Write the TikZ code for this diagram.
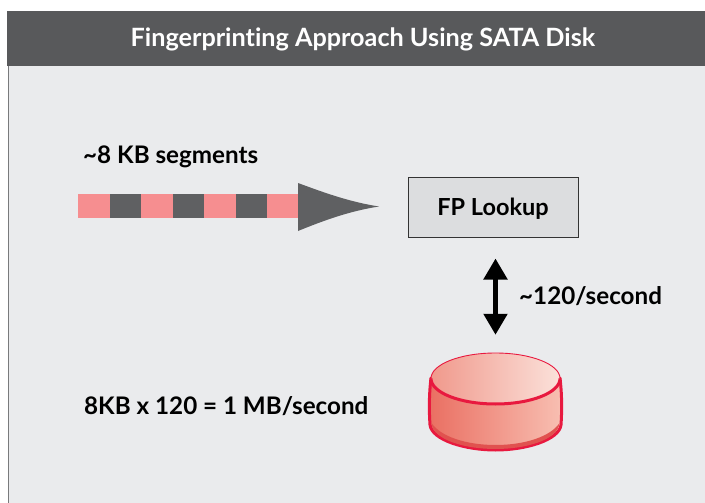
\documentclass[tikz,border=0pt]{standalone}
\usepackage{fontspec}
\setmainfont{Lato}[Ligatures={TeX,NoCommon}]
\usetikzlibrary{arrows.meta}
\definecolor{panel}{HTML}{EAEBED}
\definecolor{hdr}{HTML}{58595B}
\definecolor{pinkseg}{HTML}{F68E90}
\definecolor{greyseg}{HTML}{5F6062}
\definecolor{boxfill}{HTML}{DCDDDF}
\definecolor{diskline}{HTML}{E8193F}
\definecolor{bodyL}{HTML}{EA6F62}
\definecolor{bodyM}{HTML}{F29A8C}
\definecolor{bodyR}{HTML}{F8BFB2}
\definecolor{topL}{HTML}{F0998C}
\definecolor{topM}{HTML}{F6B9AC}
\definecolor{topR}{HTML}{FBE1DA}
\definecolor{band}{HTML}{E0524F}
\tikzset{
  label text/.style={inner sep=0pt,anchor=base west,font=\bfseries\fontsize{24.2}{28}\selectfont,text=black},
  seg/.style={minimum height=24pt,minimum width=31.5pt,inner sep=0pt,anchor=west,outer sep=0pt},
  pinkbox/.style={seg,fill=pinkseg},
  greybox/.style={seg,fill=greyseg},
  disk outline/.style={draw=diskline,line width=3pt,line join=round},
}
\begin{document}
\begin{tikzpicture}[x=1pt,y=-1pt]
\useasboundingbox (0,0) rectangle (705,503);
\fill[white] (0,0) rectangle (705,503);
% panel
\fill[panel] (8,66) rectangle (705,503);
\draw[color=hdr!80,line width=1.4pt] (8.5,66) -- (8.5,503);
\fill[hdr] (7,11) rectangle (705,66);
\node[inner sep=0pt,anchor=base,text=white,font=\bfseries\fontsize{25.2}{30}\selectfont] (title) at (363,47) {Fingerprinting Approach Using SATA Disk};
% labels
\node[label text] (seglabel) at (83,164) {\textasciitilde8 KB segments};
% stream
\node[pinkbox] (s1) at (78,206) {};
\node[greybox] (s2) at (s1.east) {};
\node[pinkbox] (s3) at (s2.east) {};
\node[greybox] (s4) at (s3.east) {};
\node[pinkbox] (s5) at (s4.east) {};
\node[greybox] (s6) at (s5.east) {};
\node[pinkbox] (s7) at (s6.east) {};
\fill[greyseg] (298,183) .. controls (325,193) and (350,202) .. (379,206.5)
  .. controls (350,211) and (325,220) .. (298,231) -- cycle;
% lookup
\node[draw=black!80,line width=1pt,fill=boxfill,minimum width=170pt,minimum height=60pt,inner sep=0pt,
  font=\bfseries\fontsize{23.5}{27}\selectfont,text=black] (fp) at (493,207) {\smash{\raisebox{-8pt}{FP Lookup}}};
% disk
\node[minimum width=134pt,minimum height=98pt,inner sep=0pt] (disk) at (495.5,402) {};
\path[left color=bodyL,middle color=bodyM,right color=bodyR,disk outline]
  (431,378) .. controls (429,395) and (429,410) .. (430,425)
  .. controls (432,440) and (465,450) .. (495.5,450)
  .. controls (526,450) and (559,440) .. (561,425)
  .. controls (562,410) and (562,395) .. (560,378) -- cycle;
\fill[band] (431.5,423) .. controls (440,436) and (465,445) .. (495.5,445)
  .. controls (526,445) and (551,436) .. (559.5,423)
  .. controls (558,440) and (526,449) .. (495.5,449)
  .. controls (465,449) and (433,440) .. (431.5,423) -- cycle;
\path[left color=topL,middle color=topM,right color=topR,draw=diskline,line width=0.9pt]
  (495.5,378.5) ellipse [x radius=64.5,y radius=25.5];
\draw[disk outline] (431,378.5) arc[start angle=180,end angle=360,x radius=64.5,y radius=-25.5];
% connector
\draw[{Triangle[width=23pt,length=21pt]}-{Triangle[width=23pt,length=21pt]},line width=5pt,black]
  ([yshift=-21pt]fp.south -| disk.north) -- ([yshift=18pt]disk.north);
\node[label text] (rate) at (519,304) {\textasciitilde120/second};
\node[label text] (calc) at (84,414) {8KB x 120 = 1 MB/second};
\end{tikzpicture}
\end{document}
